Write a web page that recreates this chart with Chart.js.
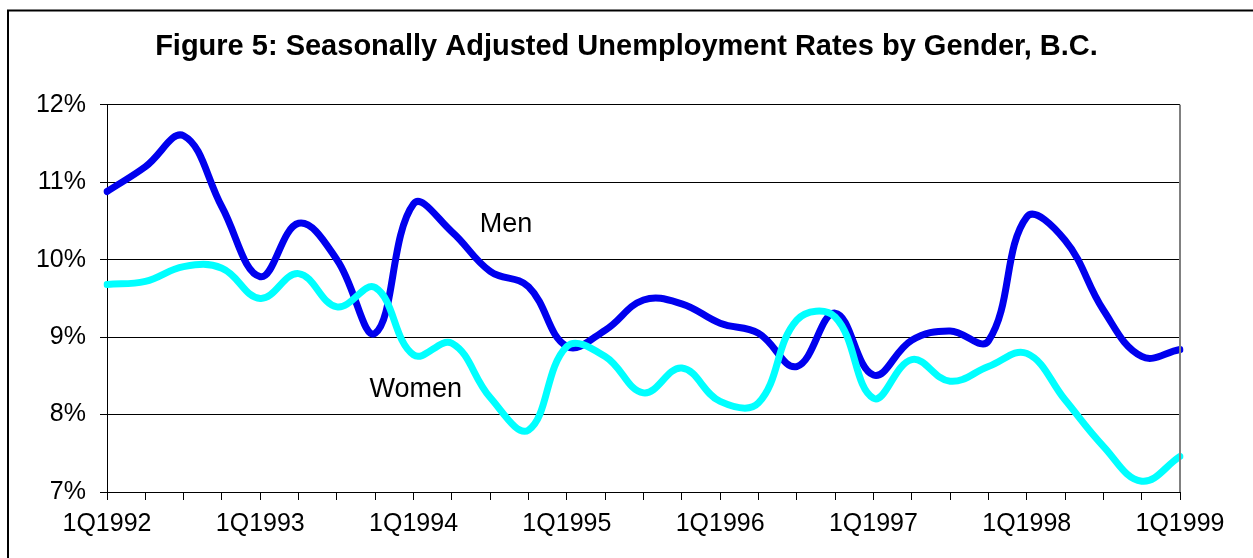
<!DOCTYPE html>
<html>
<head>
<meta charset="utf-8">
<script src="https://cdn.jsdelivr.net/npm/chart.js@4"></script>
<style>
  html, body { margin: 0; padding: 0; background: #fff; }
  #wrap { width: 1253px; height: 558px; }
</style>
</head>
<body>
<div id="wrap"><canvas id="unemployment" width="1253" height="558"></canvas></div>
<script>
// quarters 1Q1992 .. 1Q1999
var quarters = [];
for (var yr = 1992; yr <= 1999; yr++) {
  for (var q = 1; q <= 4; q++) {
    if (yr == 1999 && q > 1) break;
    quarters.push(q + 'Q' + yr);
  }
}

var men = [10.88, 11.20, 11.60, 10.68, 9.78, 10.47, 10.00, 9.05, 10.72, 10.36,
           9.85, 9.65, 8.88, 9.09, 9.48, 9.43, 9.18, 9.05, 8.62, 9.31,
           8.51, 8.96, 9.08, 8.95, 10.55, 10.25, 9.35, 8.75, 8.84];
var women = [9.68, 9.72, 9.91, 9.89, 9.50, 9.82, 9.39, 9.64, 8.77, 8.92,
             8.22, 7.80, 8.88, 8.75, 8.28, 8.60, 8.17, 8.15, 9.22, 9.26,
             8.21, 8.71, 8.43, 8.62, 8.79, 8.19, 7.59, 7.14, 7.46];

var yTicks = [7, 8, 9, 10, 11, 12];

// series labels placed in data units: [category index, rate]
var seriesLabels = [
  { text: 'Men', at: [10.41, 10.46] },
  { text: 'Women', at: [8.06, 8.32] }
];

var FONT = 'Arial, "Liberation Sans", sans-serif';

var framePlugin = {
  id: 'frame',
  beforeDraw: function(chart) {
    var ctx = chart.ctx;
    ctx.save();
    ctx.strokeStyle = '#000';
    ctx.lineWidth = 2;
    ctx.strokeRect(8, 10.5, 1400, 700);
    ctx.restore();
  },
  afterDatasetsDraw: function(chart) {
    var ctx = chart.ctx;
    var a = chart.chartArea;
    ctx.save();
    ctx.strokeStyle = '#808080';
    ctx.lineWidth = 2;
    ctx.beginPath();
    ctx.moveTo(a.right, a.top);
    ctx.lineTo(a.right, a.bottom);
    ctx.stroke();

    ctx.fillStyle = '#000';
    ctx.font = '27px ' + FONT;
    ctx.textAlign = 'center';
    ctx.textBaseline = 'middle';
    for (var i = 0; i < seriesLabels.length; i++) {
      var l = seriesLabels[i];
      ctx.fillText(l.text,
        chart.scales.x.getPixelForValue(l.at[0]),
        chart.scales.y.getPixelForValue(l.at[1]));
    }
    ctx.restore();
  }
};

var chart = new Chart(document.getElementById('unemployment').getContext('2d'), {
  type: 'line',
  data: {
    labels: quarters,
    datasets: [{
      label: 'Women',
      data: women,
      borderColor: '#00ffff',
      borderWidth: 7,
      borderCapStyle: 'round',
      tension: 0.4,
      pointRadius: 0,
      fill: false
    }, {
      label: 'Men',
      data: men,
      borderColor: '#0000ee',
      borderWidth: 7,
      borderCapStyle: 'round',
      tension: 0.4,
      pointRadius: 0,
      fill: false
    }]
  },
  options: {
    responsive: false,
    animation: false,
    layout: { padding: 0 },
    plugins: {
      legend: { display: false },
      tooltip: { enabled: false },
      title: {
        display: true,
        text: 'Figure 5: Seasonally Adjusted Unemployment Rates by Gender, B.C.',
        color: '#000',
        font: { family: FONT, size: 29, weight: 'bold' },
        padding: { top: 30, bottom: 40 }
      }
    },
    scales: {
      x: {
        type: 'category',
        offset: false,
        afterFit: function(scale) { scale.height = 66; },
        border: { display: true, color: '#000', width: 1 },
        grid: { display: true, drawOnChartArea: false, drawTicks: true, tickLength: 8, color: '#000' },
        ticks: {
          autoSkip: false,
          maxRotation: 0,
          color: '#000',
          padding: 9,
          font: { family: FONT, size: 25 },
          callback: function(val, idx) { return idx % 4 == 0 ? quarters[idx] : ''; }
        }
      },
      y: {
        min: yTicks[0],
        max: yTicks[yTicks.length - 1],
        afterFit: function(scale) { scale.width = 107; },
        afterBuildTicks: function(scale) {
          scale.ticks = yTicks.map(function(v) { return { value: v }; });
        },
        border: { display: true, color: '#000', width: 1 },
        grid: { display: true, drawOnChartArea: true, drawTicks: true, tickLength: 7, color: '#000', lineWidth: 1 },
        ticks: {
          color: '#000',
          padding: 14,
          font: { family: FONT, size: 25 },
          callback: function(v) { return v + '%'; }
        }
      },
      // empty right-hand axis, only reserves the margin right of the plot
      yRight: {
        position: 'right',
        min: yTicks[0],
        max: yTicks[yTicks.length - 1],
        afterFit: function(scale) { scale.width = 73; },
        border: { display: false },
        grid: { display: false },
        ticks: { display: false }
      }
    }
  },
  plugins: [framePlugin]
});
</script>
</body>
</html>
